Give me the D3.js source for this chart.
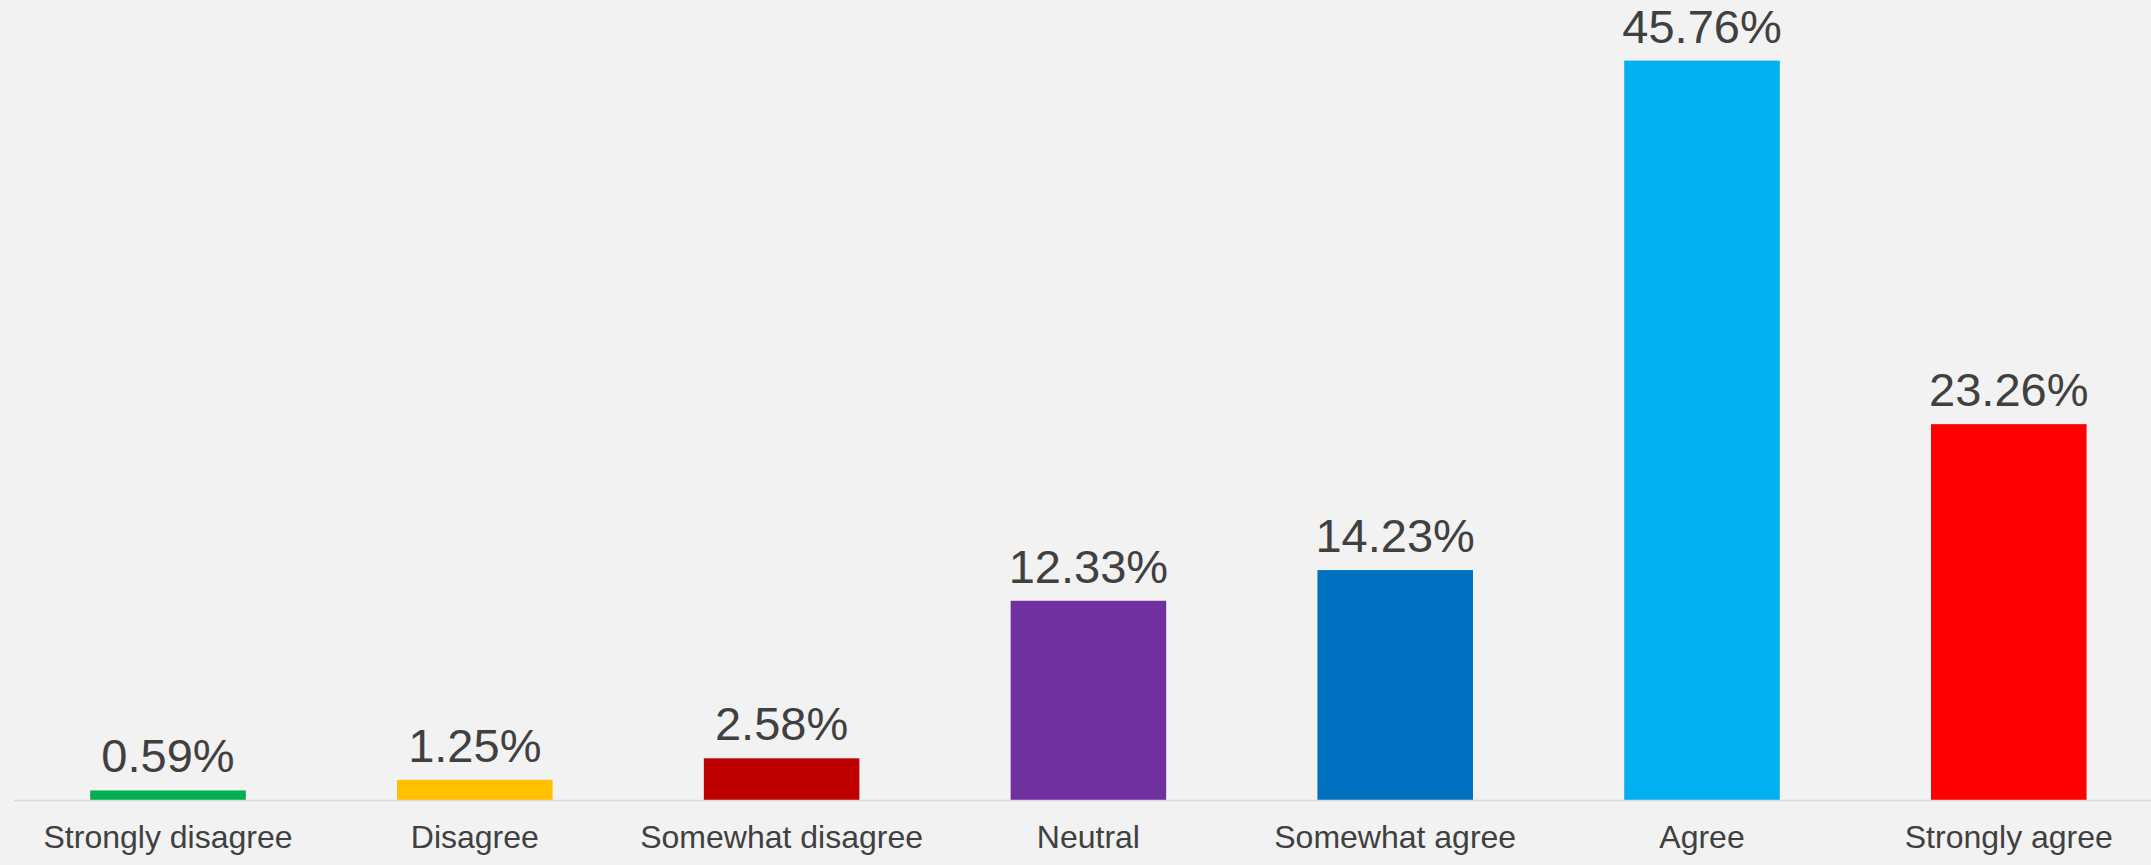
<!DOCTYPE html>
<html>
<head>
<meta charset="utf-8">
<script src="https://cdn.jsdelivr.net/npm/d3@7"></script>
<style>
  html, body { margin: 0; padding: 0; background: #f2f2f2; }
  svg { display: block; }
</style>
</head>
<body>
<svg id="chart" width="2151" height="865"></svg>
<script>
const categories = ["Strongly disagree", "Disagree", "Somewhat disagree", "Neutral", "Somewhat agree", "Agree", "Strongly agree"];
const values = [0.59, 1.25, 2.58, 12.33, 14.23, 45.76, 23.26];
const valueLabels = ["0.59%", "1.25%", "2.58%", "12.33%", "14.23%", "45.76%", "23.26%"];
const colors = ["#00b050", "#ffc000", "#c00000", "#7030a0", "#0070c0", "#00b0f0", "#ff0000"];

const svg = d3.select("#chart");
const W = 2151, H = 865;
svg.append("rect").attr("width", W).attr("height", H).attr("fill", "#f2f2f2");

const baseY = 800;
const x = d3.scaleBand().domain(categories).range([14.6, 2162.2]).paddingInner(0.493).paddingOuter(0.2465);
const y = d3.scaleLinear().domain([0, 45.76]).range([baseY, 60.6]);

const data = categories.map((c, i) => ({ c, v: values[i], label: valueLabels[i], color: colors[i] }));

svg.selectAll("rect.bar").data(data).enter().append("rect")
  .attr("class", "bar")
  .attr("x", d => x(d.c))
  .attr("width", x.bandwidth())
  .attr("y", d => y(d.v))
  .attr("height", d => baseY - y(d.v))
  .attr("fill", d => d.color);

// axis baseline
svg.append("line")
  .attr("x1", 14).attr("x2", W)
  .attr("y1", baseY + 0.5).attr("y2", baseY + 0.5)
  .attr("stroke", "#d9d9d9").attr("stroke-width", 1.5);

const font = "'Liberation Sans', Arial, sans-serif";

svg.selectAll("text.val").data(data).enter().append("text")
  .attr("class", "val")
  .attr("x", d => x(d.c) + x.bandwidth() / 2)
  .attr("y", d => y(d.v) - 18)
  .attr("text-anchor", "middle")
  .attr("font-family", font)
  .attr("font-size", 47)
  .attr("fill", "#404040")
  .text(d => d.label);

svg.selectAll("text.cat").data(data).enter().append("text")
  .attr("class", "cat")
  .attr("x", d => x(d.c) + x.bandwidth() / 2)
  .attr("y", 848)
  .attr("text-anchor", "middle")
  .attr("font-family", font)
  .attr("font-size", 32)
  .attr("fill", "#404040")
  .text(d => d.c);
</script>
</body>
</html>
